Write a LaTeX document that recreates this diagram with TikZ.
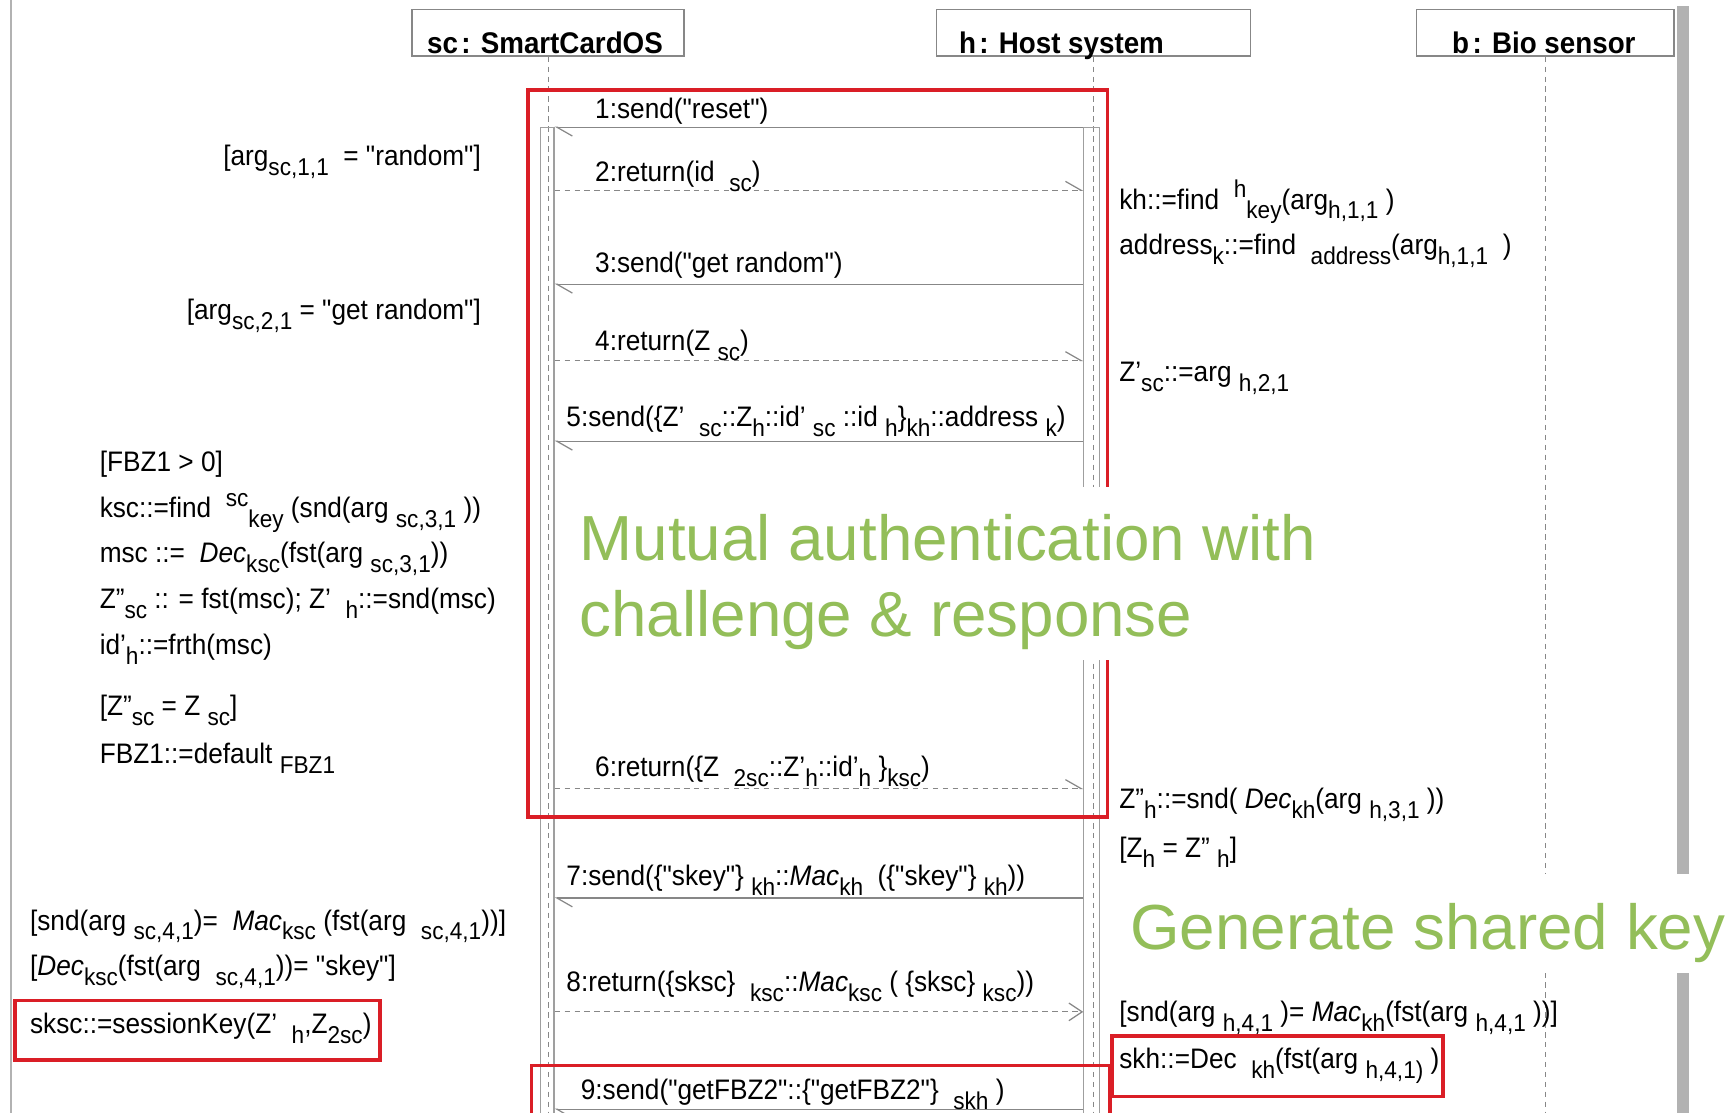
\documentclass[tikz,border=0pt]{standalone}
\usepackage{fontspec}
\newfontfamily\dia[FakeStretch=0.93]{Liberation Sans}
\newfontfamily\grn{Liberation Sans}
\usetikzlibrary{arrows.meta}
\definecolor{boxred}{RGB}{218,30,38}
\definecolor{capgreen}{RGB}{147,190,89}
\definecolor{linegray}{RGB}{135,135,135}
\definecolor{bargray}{RGB}{178,178,178}
% lowered / raised index text
\newcommand{\sbs}[1]{\raisebox{-9pt}{\fontsize{22}{22}\selectfont #1}}
\newcommand{\sps}[1]{\raisebox{10pt}{\fontsize{22}{22}\selectfont #1}}

\begin{document}
\begin{tikzpicture}[x=1pt,y=-1pt,
  hdrbox/.style={draw=linegray, line width=1.2pt, fill=white, inner sep=0pt, anchor=north west},
  hdrtxt/.style={font={\dia\bfseries\fontsize{27}{30}\selectfont}, inner sep=0pt, anchor=base west},
  lifeline/.style={draw=linegray, line width=0.9pt, dash pattern=on 5pt off 4pt},
  actbar/.style={draw=linegray!80, line width=1pt, inner sep=0pt, anchor=north},
  msg/.style={draw=linegray, line width=1.1pt, -{Straight Barb[harpoon,length=14pt,width=16pt]}},
  ret/.style={msg, dash pattern=on 5pt off 4pt},
  txt/.style={font={\dia\fontsize{25.5}{30}\selectfont}, inner sep=0pt, anchor=base west},
  txtr/.style={txt, anchor=base east},
  redbox/.style={draw=boxred, line width=3.2pt, inner sep=0pt, anchor=north west},
  bigtxt/.style={font={\grn\fontsize{57.6}{69}\selectfont}, text=capgreen, inner sep=0pt, anchor=base west},
  blank/.style={fill=white, inner sep=0pt, anchor=north west}]

\useasboundingbox (0,0) rectangle (1568,1006);
\clip (0,0) rectangle (1568,1006);
\fill[white] (0,0) rectangle (1568,1006);

% frame
\draw[bargray, line width=1.5pt] (10,0) -- (10,1006);
\fill[bargray] (1516,5) rectangle (1527,1006);

% participants
\node[hdrbox, minimum width=246pt, minimum height=42pt] (scH) at (372,8) {};
\node[hdrbox, minimum width=284pt, minimum height=42pt] (hH) at (846,8) {};
\node[hdrbox, minimum width=233pt, minimum height=42pt] (bH) at (1280,8) {};
\node[hdrtxt] (scL) at (386,48) {sc\hspace{3pt}: SmartCardOS};
\node[hdrtxt] (hL) at (867,48) {h\hspace{3pt}: Host system};
\node[hdrtxt] (bL) at (1313,48) {b\hspace{3pt}: Bio sensor};

\coordinate (bot) at (0,1012);
\draw[lifeline] (scH.south) -- (scH.south |- bot);
\draw[lifeline] (hH.south) -- (hH.south |- bot);
\draw[lifeline] (bH.south) -- (bH.south |- bot);

\node[actbar, minimum width=12pt, minimum height=900pt] (actS) at (495,115) {};
\node[actbar, minimum width=14pt, minimum height=900pt] (actH) at (987,115) {};

% message levels
\coordinate (y1) at (0,115);
\coordinate (y2) at (0,172);
\coordinate (y3) at (0,257);
\coordinate (y4) at (0,326);
\coordinate (y5) at (0,399);
\coordinate (y6) at (0,713);
\coordinate (y7) at (0,812);
\coordinate (y8) at (0,915);
\coordinate (y9) at (0,1003);

\draw[msg] (actH.west |- y1) -- (actS.east |- y1);
\draw[ret] (actS.east |- y2) -- (actH.west |- y2);
\draw[msg] (actH.west |- y3) -- (actS.east |- y3);
\draw[ret] (actS.east |- y4) -- (actH.west |- y4);
\draw[msg] (actH.west |- y5) -- (actS.east |- y5);
\draw[ret] (actS.east |- y6) -- (actH.west |- y6);
\draw[msg] (actH.west |- y7) -- (actS.east |- y7);
\draw[draw=linegray, line width=1.1pt, dash pattern=on 5pt off 4pt, -{Straight Barb[length=12pt,width=16pt]}] (actS.east |- y8) -- (actH.west |- y8);
\draw[msg] (actH.west |- y9) -- (actS.east |- y9);

% message labels
\node[txt] (m1) at (538,107) {1:send("reset")};
\node[txt] (m2) at (538,164) {2:return(id \ \sbs{sc})};
\node[txt] (m3) at (538,246) {3:send("get random")};
\node[txt] (m4) at (538,317) {4:return(Z \sbs{sc})};
\node[txt] (m5) at (512,386) {5:send(\{Z’ \ \sbs{sc}::Z\sbs{h}::id’ \sbs{sc} ::id \sbs{h}\}\sbs{kh}::address \sbs{k})};
\node[txt] (m6) at (538,702) {6:return(\{Z \ \sbs{2sc}::Z’\sbs{h}::id’\sbs{h} \}\sbs{ksc})};
\node[txt] (m7) at (512,801) {7:send(\{"skey"\} \sbs{kh}::\textit{Mac}\sbs{kh} \ (\{"skey"\} \sbs{kh}))};
\node[txt] (m8) at (512,897) {8:return(\{sksc\} \ \sbs{ksc}::\textit{Mac}\sbs{ksc} ( \{sksc\} \sbs{ksc}))};
\node[txt] (m9) at (525,994) {9:send("getFBZ2"::\{"getFBZ2"\} \ \sbs{skh} )};

% smart card side
\node[txtr] (g1) at (435,150) {[arg\sbs{sc,1,1} \ = "random"]};
\node[txtr] (g2) at (435,289) {[arg\sbs{sc,2,1} = "get random"]};
\node[txt] (s1) at (90,426) {[FBZ1 > 0]};
\node[txt] (s2) at (90,468) {ksc::=find \ \sps{sc}\sbs{key} (snd(arg \sbs{sc,3,1} ))};
\node[txt] (s3) at (90,509) {msc ::= \ \textit{Dec}\sbs{ksc}(fst(arg \sbs{sc,3,1}))};
\node[txt] (s4) at (90,550) {Z”\sbs{sc} :: = fst(msc); Z’ \ \sbs{h}::=snd(msc)};
\node[txt] (s5) at (90,592) {id’\sbs{h}::=frth(msc)};
\node[txt] (s6) at (90,647) {[Z”\sbs{sc} = Z \sbs{sc}]};
\node[txt] (s7) at (90,690) {FBZ1::=default \sbs{FBZ1}};
\node[txt] (s8) at (27,841) {[snd(arg \sbs{sc,4,1})= \ \textit{Mac}\sbs{ksc} (fst(arg \ \sbs{sc,4,1}))]};
\node[txt] (s9) at (27,882) {[\textit{Dec}\sbs{ksc}(fst(arg \ \sbs{sc,4,1}))= "skey"]};
\node[txt] (s10) at (27,935) {sksc::=sessionKey(Z’ \ \sbs{h},Z\sbs{2sc})};

% host side
\node[txt] (h1) at (1012,189) {kh::=find \ \sps{h}\sbs{key}(arg\sbs{h,1,1} )};
\node[txt] (h2) at (1012,230) {address\sbs{k}::=find \ \sbs{address}(arg\sbs{h,1,1} \ )};
\node[txt] (h3) at (1012,345) {Z’\sbs{sc}::=arg \sbs{h,2,1}};
\node[txt] (h4) at (1012,731) {Z”\sbs{h}::=snd( \textit{Dec}\sbs{kh}(arg \sbs{h,3,1} ))};
\node[txt] (h5) at (1012,775) {[Z\sbs{h} = Z” \sbs{h}]};
\node[txt] (h6) at (1012,924) {[snd(arg \sbs{h,4,1} )= \textit{Mac}\sbs{kh}(fst(arg \sbs{h,4,1} ))]};
\node[txt] (h7) at (1012,966) {skh::=Dec \ \sbs{kh}(fst(arg \sbs{h,4,1)} )};

% highlighted regions
\node[redbox, minimum width=524pt, minimum height=657pt] (authbox) at (476,80) {};
\node[redbox, minimum width=523pt, minimum height=60pt] (fbzbox) at (479,962) {};
\node[redbox, minimum width=330pt, minimum height=54pt] (skscbox) at (12,903) {};
\node[redbox, minimum width=299pt, minimum height=55pt] (skhbox) at (1004,935) {};

% captions
\node[blank, minimum width=692pt, minimum height=157pt] (mutbg) at (508,440) {};
\node[bigtxt] (mut1) at (524,507) {Mutual authentication with};
\node[bigtxt] (mut2) at (524,576) {challenge \& response};
\node[blank, minimum width=560pt, minimum height=90pt] (genbg) at (1010,790) {};
\node[bigtxt] (gen) at (1022,859) {Generate shared key};
\end{tikzpicture}
\end{document}
